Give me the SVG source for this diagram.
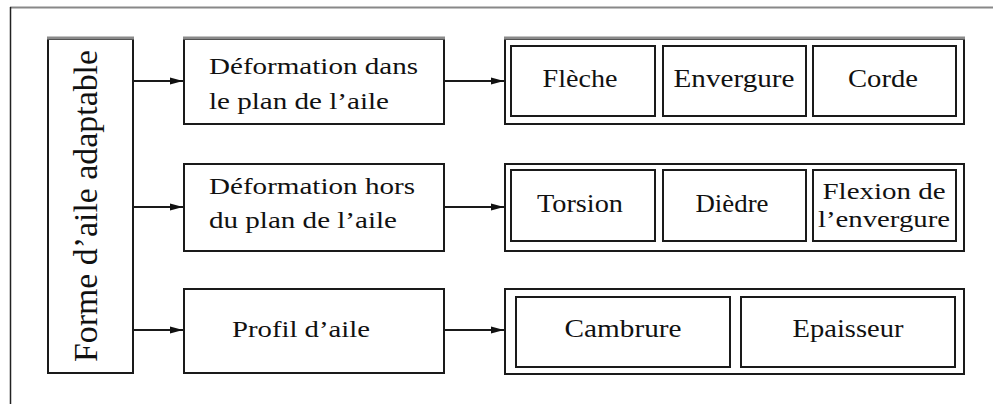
<svg xmlns="http://www.w3.org/2000/svg" width="993" height="404" viewBox="0 0 993 404">
<style>
.bg{fill:#fff}
.box{fill:#fff;stroke:#1a1a1a;stroke-width:2}
.inner{fill:#fff;stroke:#1a1a1a;stroke-width:2}
.shade{stroke:#8a8a8a;stroke-width:3;fill:none}
.t{font-family:"Liberation Serif","Times New Roman",serif;fill:#111}
.m{font-size:23px}
.r{font-size:26px;text-anchor:middle}
.s{font-size:23px;text-anchor:middle}
.conn{stroke:#1a1a1a;stroke-width:2;fill:none;marker-end:url(#ah)}
</style>
<defs>
<marker id="ah" markerUnits="userSpaceOnUse" markerWidth="14" markerHeight="9" refX="13" refY="4.5" orient="auto">
<path d="M0,1 L13,4.5 L0,8 z" fill="#111"/>
</marker>
</defs>
<rect class="bg" x="0" y="0" width="993" height="404"/>
<g id="frame">
<line x1="10" y1="7.5" x2="993" y2="7.5" stroke="#888" stroke-width="2"/>
<line x1="10.5" y1="7" x2="10.5" y2="404" stroke="#222" stroke-width="1.5"/>
</g>
<g id="node-forme">
<rect class="box" x="48" y="39" width="85" height="334"/>
<line class="shade" x1="47" y1="38" x2="134" y2="38"/>
<text class="t" font-size="33" transform="translate(97,362) rotate(-90)" textLength="312" lengthAdjust="spacingAndGlyphs">Forme d’aile adaptable</text>
</g>
<g id="node-def-plan">
<rect class="box" x="184" y="39" width="260" height="85"/>
<line class="shade" x1="183" y1="38" x2="445" y2="38"/>
<text class="t m" x="209" y="74" textLength="209" lengthAdjust="spacingAndGlyphs">Déformation dans</text>
<text class="t m" x="209" y="109" textLength="180" lengthAdjust="spacingAndGlyphs">le plan de l’aile</text>
</g>
<g id="node-def-hors">
<rect class="box" x="184" y="164" width="260" height="87"/>
<text class="t m" x="209" y="194" textLength="206" lengthAdjust="spacingAndGlyphs">Déformation hors</text>
<text class="t m" x="209" y="228" textLength="188" lengthAdjust="spacingAndGlyphs">du plan de l’aile</text>
</g>
<g id="node-profil">
<rect class="box" x="184" y="289" width="260" height="84"/>
<text class="t m" x="232" y="337" textLength="138" lengthAdjust="spacingAndGlyphs">Profil d’aile</text>
</g>
<g id="node-group1">
<rect class="box" x="505" y="39" width="459" height="85"/>
<line class="shade" x1="504" y1="38" x2="965" y2="38"/>
</g>
<g id="node-fleche">
<rect class="inner" x="511" y="46" width="144" height="70"/>
<text class="t r" x="580" y="87" textLength="75" lengthAdjust="spacingAndGlyphs">Flèche</text>
</g>
<g id="node-envergure">
<rect class="inner" x="663" y="46" width="143" height="70"/>
<text class="t r" x="734" y="87" textLength="121" lengthAdjust="spacingAndGlyphs">Envergure</text>
</g>
<g id="node-corde">
<rect class="inner" x="813" y="46" width="143" height="70"/>
<text class="t r" x="883" y="87" textLength="70" lengthAdjust="spacingAndGlyphs">Corde</text>
</g>
<g id="node-group2">
<rect class="box" x="505" y="164" width="459" height="87"/>
</g>
<g id="node-torsion">
<rect class="inner" x="511" y="170" width="144" height="71"/>
<text class="t r" x="580" y="212" textLength="86" lengthAdjust="spacingAndGlyphs">Torsion</text>
</g>
<g id="node-diedre">
<rect class="inner" x="663" y="170" width="143" height="71"/>
<text class="t r" x="732" y="212" textLength="73" lengthAdjust="spacingAndGlyphs">Dièdre</text>
</g>
<g id="node-flexion">
<rect class="inner" x="813" y="170" width="143" height="71"/>
<text class="t s" x="884" y="199" textLength="123" lengthAdjust="spacingAndGlyphs">Flexion de</text>
<text class="t s" x="884" y="227" textLength="132" lengthAdjust="spacingAndGlyphs">l’envergure</text>
</g>
<g id="node-group3">
<rect class="box" x="505" y="289" width="459" height="85"/>
</g>
<g id="node-cambrure">
<rect class="inner" x="516" y="297" width="214" height="70"/>
<text class="t r" x="623" y="337" textLength="117" lengthAdjust="spacingAndGlyphs">Cambrure</text>
</g>
<g id="node-epaisseur">
<rect class="inner" x="741" y="297" width="214" height="70"/>
<text class="t r" x="848" y="337" textLength="111" lengthAdjust="spacingAndGlyphs">Epaisseur</text>
</g>
<g id="connectors">
<line class="conn" x1="134" y1="81" x2="183" y2="81"/>
<line class="conn" x1="134" y1="207" x2="183" y2="207"/>
<line class="conn" x1="134" y1="330" x2="183" y2="330"/>
<line class="conn" x1="445" y1="81" x2="504" y2="81"/>
<line class="conn" x1="445" y1="207" x2="504" y2="207"/>
<line class="conn" x1="445" y1="330" x2="504" y2="330"/>
</g>
</svg>
